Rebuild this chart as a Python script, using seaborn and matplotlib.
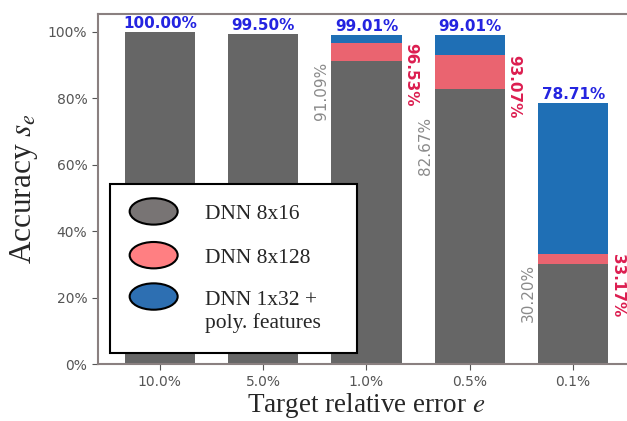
import matplotlib
matplotlib.use("Agg")
import matplotlib.pyplot as plt
import matplotlib.patches as mpatches
from matplotlib.legend_handler import HandlerPatch
import seaborn as sns
import pandas as pd

# accuracy per target error, cumulative per model
targets = ["10.0%", "5.0%", "1.0%", "0.5%", "0.1%"]
acc_8x16 = [100.00, 99.50, 91.09, 82.67, 30.20]
acc_8x128 = [100.00, 99.50, 96.53, 93.07, 33.17]
acc_1x32 = [100.00, 99.50, 99.01, 99.01, 78.71]
gray_label_y = [None, None, 91.09, 74.5, 30.20]  # where the 8x16 labels sit

c_gray = "#666666"
c_red = "#ea6470"
c_blue = "#1f6fb5"

df = pd.DataFrame({"target": targets, "s16": acc_8x16, "s128": acc_8x128, "s32": acc_1x32})

sns.set_style("ticks")
plt.rcParams["mathtext.fontset"] = "stix"

fig = plt.figure(figsize=(6.27, 4.21), dpi=100)
ax = fig.add_axes([0.156, 0.135, 0.857, 0.832])

sns.barplot(data=df, x="target", y="s32", color=c_blue, saturation=1, width=0.68, linewidth=0, ax=ax)
sns.barplot(data=df, x="target", y="s128", color=c_red, saturation=1, width=0.68, linewidth=0, ax=ax)
sns.barplot(data=df, x="target", y="s16", color=c_gray, saturation=1, width=0.68, linewidth=0, ax=ax)

# labels
for i in range(len(targets)):
    ax.text(i, acc_1x32[i] + 0.3, f"{acc_1x32[i]:.2f}%", ha="center", va="bottom",
            color="#2424e0", fontsize=11, fontweight="bold")
    if i >= 2:
        ax.text(i - 0.36, gray_label_y[i], f"{acc_8x16[i]:.2f}%", ha="right", va="top",
                rotation=90, color="#8a8a8a", fontsize=11)
        ax.text(i + 0.355, acc_8x128[i], f"{acc_8x128[i]:.2f}%", ha="left", va="top",
                rotation=270, color="#dc1e50", fontsize=11, fontweight="bold")

ax.set_xlim(-0.6, 4.6)
ax.set_ylim(0, 105.4)
ax.set_yticks([0, 20, 40, 60, 80, 100])
ax.set_yticklabels([f"{v}%" for v in [0, 20, 40, 60, 80, 100]])
ax.tick_params(colors="#555555", labelsize=10, length=4)
for s in ["left", "bottom", "top"]:
    ax.spines[s].set_color("#8a8080")
    ax.spines[s].set_linewidth(1.5)
ax.spines["right"].set_visible(False)

ax.set_xlabel("Target relative error $e$", fontsize=19.5, family="Liberation Serif", labelpad=2)
ax.set_ylabel("Accuracy $s_e$", fontsize=22.5, family="Liberation Serif", labelpad=6)


class HandlerEllipse(HandlerPatch):
    def __init__(self, yshift=0, **kw):
        super().__init__(**kw)
        self.yshift = yshift

    def create_artists(self, legend, orig_handle, xdescent, ydescent, width, height, fontsize, trans):
        center = 0.5 * width - 0.5 * xdescent, 0.5 * height - 0.5 * ydescent + self.yshift
        p = mpatches.Ellipse(xy=center, width=width, height=height * 1.75)
        self.update_prop(p, orig_handle, legend)
        p.set_transform(trans)
        return [p]


h1 = mpatches.Ellipse((0, 0), 1, 1, facecolor="#787474", edgecolor="black", linewidth=1.5)
h2 = mpatches.Ellipse((0, 0), 1, 1, facecolor="#ff7f82", edgecolor="black", linewidth=1.5)
h3 = mpatches.Ellipse((0, 0), 1, 1, facecolor="#2d6fb2", edgecolor="black", linewidth=1.5)
labels = ["DNN 8x16", "DNN 8x128", "DNN 1x32 +\npoly. features   "]
leg = ax.legend([h1, h2, h3], labels,
                handler_map={h1: HandlerEllipse(), h2: HandlerEllipse(), h3: HandlerEllipse(yshift=11)},
                loc="lower left", bbox_to_anchor=(0.022, 0.031), borderaxespad=0, fancybox=False,
                prop={"family": "Liberation Serif", "size": 15.5}, handlelength=2.23,
                handletextpad=1.26, labelspacing=1.1, borderpad=0.93, framealpha=1,
                edgecolor="black")
leg.get_frame().set_linewidth(1.5)

fig.savefig("out.png", dpi=100)
